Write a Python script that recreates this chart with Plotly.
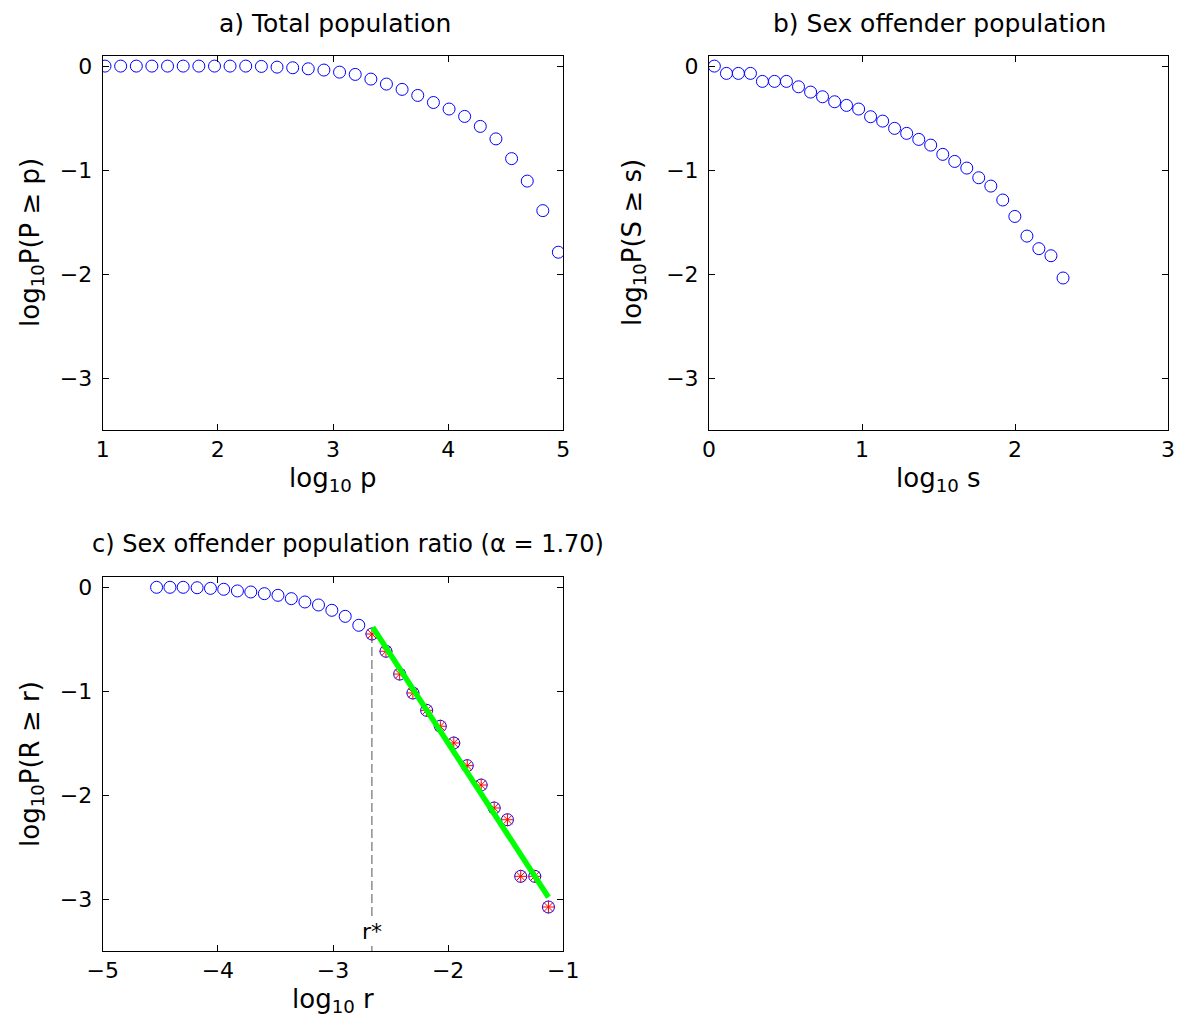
import plotly.graph_objects as go

# ---- Data ----
# a) Total population
a_x = [1.02, 1.156, 1.292, 1.427, 1.563, 1.699, 1.835, 1.971, 2.106, 2.242,
       2.378, 2.514, 2.650, 2.785, 2.921, 3.057, 3.193, 3.329, 3.464, 3.600,
       3.736, 3.872, 4.008, 4.143, 4.279, 4.415, 4.551, 4.687, 4.822, 4.957]
a_y = [0, 0, 0, 0, 0, 0, 0, 0, 0, 0,
       -0.003, -0.010, -0.016, -0.026, -0.038, -0.058, -0.080, -0.125, -0.173, -0.224,
       -0.282, -0.350, -0.413, -0.484, -0.580, -0.700, -0.890, -1.106, -1.390, -1.790]

# b) Sex offender population
b_x = [0.035, 0.114, 0.192, 0.271, 0.349, 0.428, 0.506, 0.585, 0.664, 0.742,
       0.821, 0.899, 0.978, 1.056, 1.135, 1.213, 1.292, 1.371, 1.449, 1.528,
       1.606, 1.685, 1.763, 1.842, 1.920, 1.999, 2.078, 2.156, 2.235, 2.314]
b_y = [0, -0.070, -0.070, -0.070, -0.147, -0.147, -0.147, -0.199, -0.250, -0.295,
       -0.343, -0.378, -0.413, -0.487, -0.529, -0.599, -0.647, -0.705, -0.760, -0.849,
       -0.917, -0.981, -1.074, -1.154, -1.288, -1.446, -1.635, -1.756, -1.824, -2.038]

# c) Sex offender population ratio
c_x = [-4.532, -4.416, -4.301, -4.180, -4.064, -3.949, -3.830, -3.714, -3.596, -3.478,
       -3.362, -3.244, -3.126, -3.010, -2.894, -2.776, -2.662, -2.540, -2.421, -2.306,
       -2.187, -2.068, -1.951, -1.834, -1.713, -1.600, -1.485, -1.370, -1.248, -1.129]
c_y = [-0.003, -0.003, -0.003, -0.007, -0.013, -0.022, -0.038, -0.048, -0.064, -0.080,
       -0.112, -0.144, -0.173, -0.224, -0.282, -0.368, -0.452, -0.618, -0.837, -1.019,
       -1.186, -1.339, -1.500, -1.718, -1.904, -2.125, -2.238, -2.782, -2.782, -3.077]
tail_start = 16          # index of r* in c_x
alpha = 1.70
fit_x = [-2.655, -1.129]
fit_y0 = -0.388

titles = ["a) Total population", "b) Sex offender population",
          "c) Sex offender population ratio (\u03b1 = 1.70)"]
xlabels = ["log<sub>10</sub> p", "log<sub>10</sub> s", "log<sub>10</sub> r"]
ylabels = ["log<sub>10</sub>P(P \u2265 p)", "log<sub>10</sub>P(S \u2265 s)", "log<sub>10</sub>P(R \u2265 r)"]

# ---- Figure ----
W, H = 1188, 1028
FONT = "DejaVu Sans, Liberation Sans, Arial, sans-serif"
blue = "#0000FF"
fig = go.Figure()

circ = dict(symbol="circle-open", size=12, color=blue, line=dict(width=1, color=blue))

fig.add_trace(go.Scatter(x=a_x, y=a_y, mode="markers", marker=circ, xaxis="x", yaxis="y", showlegend=False))
fig.add_trace(go.Scatter(x=b_x, y=b_y, mode="markers", marker=circ, xaxis="x2", yaxis="y2", showlegend=False))
# r* dashed line
rstar = c_x[tail_start]
fig.add_trace(go.Scatter(x=[rstar, rstar], y=[c_y[tail_start], -3.5], mode="lines",
                         line=dict(color="#555555", width=1, dash="9px,4px"),
                         xaxis="x3", yaxis="y3", showlegend=False))
fig.add_trace(go.Scatter(x=c_x, y=c_y, mode="markers", marker=circ, xaxis="x3", yaxis="y3", showlegend=False))
fig.add_trace(go.Scatter(x=c_x[tail_start:], y=c_y[tail_start:], mode="markers",
                         marker=dict(symbol="asterisk-open", size=11, color="red",
                                     line=dict(width=1, color="red")),
                         xaxis="x3", yaxis="y3", showlegend=False))
# fitted power-law line
fit_yv = [fit_y0, fit_y0 - alpha * (fit_x[1] - fit_x[0])]
fig.add_trace(go.Scatter(x=fit_x, y=fit_yv, mode="lines",
                         line=dict(color="#00FF00", width=5.5),
                         xaxis="x3", yaxis="y3", showlegend=False))

fig.add_annotation(x=rstar, y=-3.31, xref="x3", yref="y3", text="r*", showarrow=False,
                   bgcolor="white", borderpad=0,
                   font=dict(size=22, color="black", family=FONT))

ax_common = dict(showline=True, linecolor="black", linewidth=1, mirror="ticks",
                 ticks="inside", ticklen=6, tickcolor="black", showgrid=False,
                 zeroline=False, automargin=False,
                 tickfont=dict(size=22, color="black", family=FONT))

# pixel boxes of the three axes (left, right, top, bottom)
dom_a = (102.7 / W, 563.3 / W, 1 - 430 / H, 1 - 55.7 / H)
dom_b = (709 / W, 1168 / W, 1 - 430 / H, 1 - 55.7 / H)
dom_c = (102.7 / W, 563.3 / W, 1 - 951 / H, 1 - 576.6 / H)

yr = [-3.5, 0.1]
ytick = dict(tickvals=[0, -1, -2, -3], ticktext=["0", "\u22121", "\u22122", "\u22123"],
             ticklabelstandoff=5)

fig.update_layout(
    width=W, height=H, margin=dict(l=0, r=0, t=0, b=0),
    paper_bgcolor="white", plot_bgcolor="white",
    font=dict(family=FONT, color="black"),
    xaxis=dict(domain=dom_a[:2], range=[1, 5], anchor="y", tickvals=[1, 2, 3, 4, 5], **ax_common),
    yaxis=dict(domain=dom_a[2:], range=yr, anchor="x", **ytick, **ax_common),
    xaxis2=dict(domain=dom_b[:2], range=[0, 3], anchor="y2", tickvals=[0, 1, 2, 3], **ax_common),
    yaxis2=dict(domain=dom_b[2:], range=yr, anchor="x2", **ytick, **ax_common),
    xaxis3=dict(domain=dom_c[:2], range=[-5, -1], anchor="y3",
                tickvals=[-5, -4, -3, -2, -1], ticktext=["\u22125", "\u22124", "\u22123", "\u22122", "\u22121"],
                **ax_common),
    yaxis3=dict(domain=dom_c[2:], range=yr, anchor="x3", **ytick, **ax_common),
)

# subplot titles (pixel centres)
for txt, xc, yc, fs in [(titles[0], 335, 23, 25), (titles[1], 940, 23, 25), (titles[2], 348, 544, 24)]:
    fig.add_annotation(x=xc / W, y=1 - yc / H, xref="paper", yref="paper",
                       xanchor="center", yanchor="middle",
                       text=txt, showarrow=False, font=dict(size=fs, color="black", family=FONT))

# axis labels
for txt, xc, yc in [(xlabels[0], 333, 479), (xlabels[1], 938, 479), (xlabels[2], 333, 1000)]:
    fig.add_annotation(x=xc / W, y=1 - yc / H, xref="paper", yref="paper",
                       xanchor="center", yanchor="middle",
                       text=txt, showarrow=False, font=dict(size=26, color="black", family=FONT))
for txt, xc, yc in [(ylabels[0], 31, 243), (ylabels[1], 633, 243), (ylabels[2], 31, 764)]:
    fig.add_annotation(x=xc / W, y=1 - yc / H, xref="paper", yref="paper",
                       xanchor="center", yanchor="middle", textangle=-90,
                       text=txt, showarrow=False, font=dict(size=26, color="black", family=FONT))

fig.write_html("out.html")
